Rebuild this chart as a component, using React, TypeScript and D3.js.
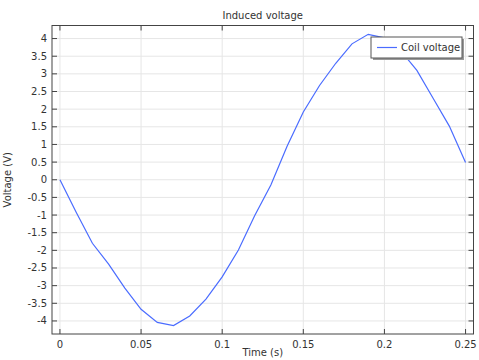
import React from "react";
import * as d3 from "d3";

const times = [0, 0.01, 0.02, 0.03, 0.04, 0.05, 0.06, 0.07, 0.08, 0.09, 0.1, 0.11, 0.12, 0.13, 0.14, 0.15, 0.16, 0.17, 0.18, 0.19, 0.2, 0.21, 0.22, 0.23, 0.24, 0.25];
const voltages = [0, -0.92, -1.8, -2.39, -3.07, -3.67, -4.04, -4.13, -3.86, -3.38, -2.75, -1.99, -1.02, -0.15, 0.95, 1.92, 2.67, 3.3, 3.85, 4.12, 4.02, 3.66, 3.1, 2.31, 1.52, 0.49];
const xTicks = [0, 0.05, 0.1, 0.15, 0.2, 0.25];
const xTickLabels = ["0", "0.05", "0.1", "0.15", "0.2", "0.25"];
const yTicks = [-4, -3.5, -3, -2.5, -2, -1.5, -1, -0.5, 0, 0.5, 1, 1.5, 2, 2.5, 3, 3.5, 4];
const title = "Induced voltage";
const xLabel = "Time (s)";
const yLabel = "Voltage (V)";
const seriesName = "Coil voltage";

const W = 479;
const H = 360;
const L = 52, R = 473.5, T = 25.5, B = 334;
const FONT = "DejaVu Sans, sans-serif";
const LINE = "#4a6cff";

export default function App() {
  const x = d3.scaleLinear().domain([-0.0049, 0.2549]).range([L, R]);
  const y = d3.scaleLinear().domain([-4.37, 4.37]).range([B, T]);
  const line = d3
    .line<number>()
    .x((_, i) => x(times[i]))
    .y((d) => y(d));
  const fmtY = (v: number) => (v < 0 ? "-" + String(Math.abs(v)) : String(v));
  return (
    <svg width={W} height={H} style={{ position: "absolute", left: 0, top: 0, background: "#fff" }} fontFamily={FONT}>
      <rect x={0} y={0} width={W} height={H} fill="#fff" />
      {/* grid */}
      {xTicks.map((t) => (
        <line key={"gx" + t} x1={x(t)} x2={x(t)} y1={T} y2={B} stroke="#e6e6e6" strokeWidth={1} />
      ))}
      {yTicks.map((t) => (
        <line key={"gy" + t} x1={L} x2={R} y1={y(t)} y2={y(t)} stroke="#e6e6e6" strokeWidth={1} />
      ))}
      {/* data */}
      <path d={line(voltages) || ""} fill="none" stroke={LINE} strokeWidth={1.2} />
      {/* frame */}
      <rect x={L} y={T} width={R - L} height={B - T} fill="none" stroke="#444" strokeWidth={1} />
      {/* ticks */}
      {xTicks.map((t, i) => (
        <g key={"tx" + t}>
          <line x1={x(t)} x2={x(t)} y1={B} y2={B - 5} stroke="#444" />
          <line x1={x(t)} x2={x(t)} y1={T} y2={T + 5} stroke="#444" />
          <text x={x(t)} y={B + 14} fontSize={10} textAnchor="middle" fill="#333">
            {xTickLabels[i]}
          </text>
        </g>
      ))}
      {yTicks.map((t) => (
        <g key={"ty" + t}>
          <line x1={L} x2={L + 5} y1={y(t)} y2={y(t)} stroke="#444" />
          <line x1={R} x2={R - 5} y1={y(t)} y2={y(t)} stroke="#444" />
          <text x={L - 5} y={y(t) + 3.5} fontSize={10} textAnchor="end" fill="#333">
            {fmtY(t)}
          </text>
        </g>
      ))}
      {/* labels */}
      <text x={(L + R) / 2} y={19} fontSize={10} textAnchor="middle" fill="#333">
        {title}
      </text>
      <text x={(L + R) / 2} y={356} fontSize={10} textAnchor="middle" fill="#333">
        {xLabel}
      </text>
      <text
        transform={`translate(11, ${(T + B) / 2}) rotate(-90)`}
        fontSize={10}
        textAnchor="middle"
        fill="#333"
      >
        {yLabel}
      </text>
      {/* legend */}
      <rect x={373} y={39} width={91} height={21} fill="#999" />
      <rect x={371} y={37} width={91} height={21} fill="#fff" stroke="#555" strokeWidth={1} />
      <line x1={377} x2={397} y1={47.5} y2={47.5} stroke={LINE} strokeWidth={1.2} />
      <text x={401} y={51} fontSize={10} fill="#333">
        {seriesName}
      </text>
    </svg>
  );
}
